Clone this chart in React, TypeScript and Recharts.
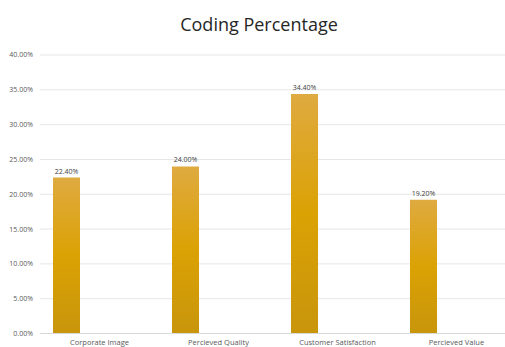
import React from 'react';
import { BarChart, Bar, XAxis, YAxis, CartesianGrid, LabelList } from 'recharts';

const categories = ['Corporate Image', 'Percieved Quality', 'Customer Satisfaction', 'Percieved Value'];
const codingValues = [22.4, 24.0, 34.4, 19.2];
const yTicks = [0, 5, 10, 15, 20, 25, 30, 35, 40];

const data = categories.map((name, i) => ({
  name,
  coding: codingValues[i],
  spacer: null,
}));

const fmt = (v: any) => `${Number(v).toFixed(2)}%`;

export default function App() {
  return (
    <div style={{ position: 'absolute', left: 0, top: 0, width: 505, height: 347, overflow: 'hidden', background: '#fff' }}>
      <div
        style={{
          position: 'absolute',
          top: 12,
          left: 0,
          width: 518,
          textAlign: 'center',
          fontFamily: 'Open Sans, sans-serif',
          fontSize: 18,
          color: '#262626',
        }}
      >
        Coding Percentage
      </div>
      <BarChart
        width={540}
        height={347}
        data={data}
        margin={{ top: 55, right: 24, bottom: 0, left: 0 }}
        barSize={27}
        barGap={39}
      >
        <defs>
          <linearGradient id="gold" x1="0" y1="0" x2="0" y2="1">
            <stop offset="0%" stopColor="#DFAA40" />
            <stop offset="50%" stopColor="#DBA204" />
            <stop offset="100%" stopColor="#C8950C" />
          </linearGradient>
        </defs>
        <CartesianGrid vertical={false} stroke="#e6e6e6" />
        <XAxis
          dataKey="name"
          height={13.5}
          axisLine={{ stroke: '#d9d9d9' }}
          tickLine={false}
          tickSize={0}
          tickMargin={6}
          interval={0}
          tick={{ fontSize: 7.5, fill: '#595959', fontFamily: 'Open Sans, sans-serif' }}
        />
        <YAxis
          width={40}
          domain={[0, 40]}
          ticks={yTicks}
          axisLine={false}
          tickLine={false}
          tickSize={0}
          tickMargin={7}
          tickFormatter={fmt}
          tick={{ fontSize: 7, fill: '#595959', fontFamily: 'Open Sans, sans-serif' }}
        />
        <Bar dataKey="coding" fill="url(#gold)" isAnimationActive={false}>
          <LabelList
            dataKey="coding"
            position="top"
            offset={4}
            formatter={fmt}
            style={{ fontSize: 7, fill: '#404040', fontFamily: 'Open Sans, sans-serif' }}
          />
        </Bar>
        <Bar dataKey="spacer" fill="none" isAnimationActive={false} />
      </BarChart>
    </div>
  );
}
